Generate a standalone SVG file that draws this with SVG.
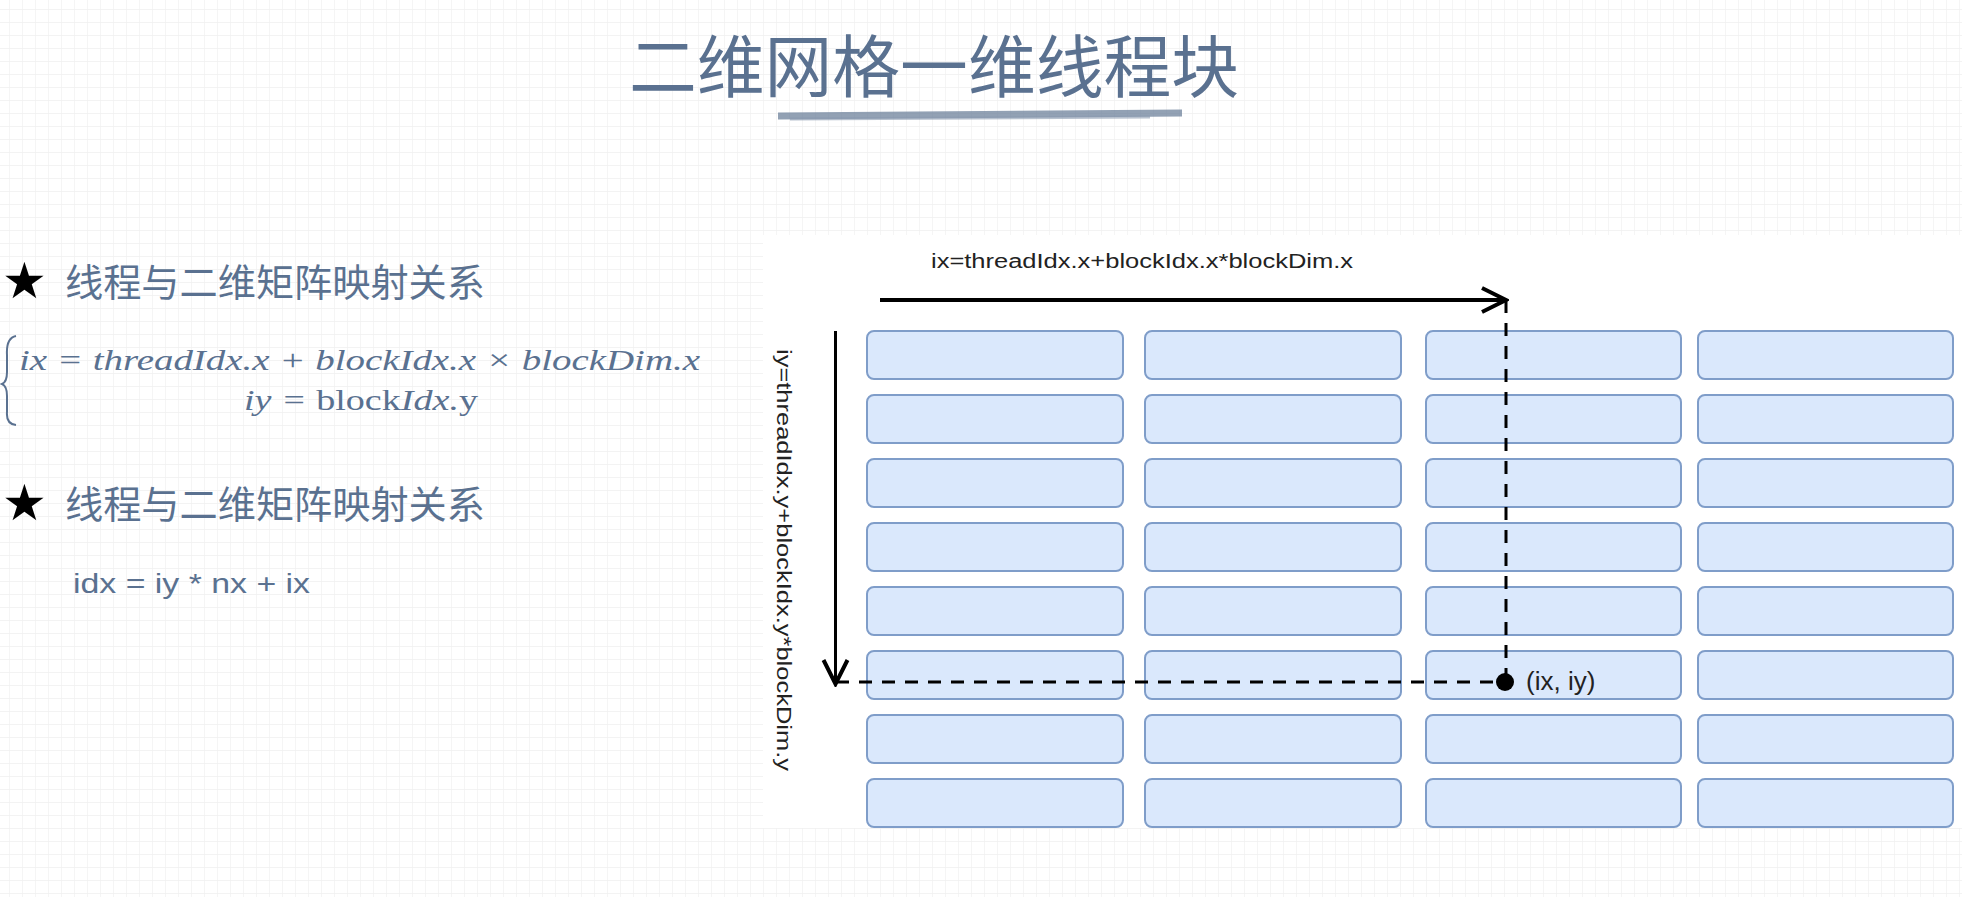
<svg xmlns="http://www.w3.org/2000/svg" width="1962" height="897" viewBox="0 0 1962 897">
<defs>
<pattern id="grid" x="9" y="9" width="13" height="13" patternUnits="userSpaceOnUse">
<path d="M0 0H13M0 0V13" stroke="#f0f0f0" stroke-width="1.3" fill="none"/>
</pattern>
<marker id="open" viewBox="0 0 20 20" refX="18" refY="10" markerWidth="10" markerHeight="10" markerUnits="userSpaceOnUse" orient="auto">
<path d="M2 2L18 10L2 18" fill="none" stroke="#000" stroke-width="2.5"/>
</marker>
<marker id="openBig" viewBox="0 0 30 30" refX="27" refY="15" markerWidth="30" markerHeight="30" markerUnits="userSpaceOnUse" orient="auto">
<path d="M3 3L27 15L3 27" fill="none" stroke="#000" stroke-width="4"/>
</marker>
</defs>
<style>
.cell{fill:#dae8fc;stroke:#7f9dc9;stroke-width:2}
.head{font-family:"Noto Sans CJK SC",sans-serif;fill:#5a7190}
.math{font-family:"Liberation Serif","DejaVu Serif",serif;font-style:italic;fill:#5a7190}
.lbl{font-family:"Liberation Sans",Arial,sans-serif;fill:#222}
</style>
<rect width="1962" height="897" fill="#fff"/>
<rect width="1962" height="897" fill="url(#grid)"/>
<g id="title">
<text x="934" y="92" text-anchor="middle" class="head" font-size="68" textLength="610" lengthAdjust="spacingAndGlyphs">二维网格一维线程块</text>
<path d="M778 116 L1182 113" stroke="#6e829c" stroke-width="7" opacity="0.75"/>
<path d="M790 119 L1150 117" stroke="#8a9ab0" stroke-width="3" opacity="0.6"/>
</g>
<g id="left">
<text x="2" y="298" font-family="DejaVu Sans,sans-serif" font-size="50" fill="#000">★</text>
<text x="65" y="296" class="head" font-size="38" textLength="420" lengthAdjust="spacingAndGlyphs">线程与二维矩阵映射关系</text>
<path d="M16 336 Q6 338 7 355 L7 372 Q7 382 2 384 Q7 386 7 396 L7 412 Q6 424 16 425" fill="none" stroke="#5a7190" stroke-width="2"/>
<text x="19" y="370" class="math" font-size="30" textLength="681" lengthAdjust="spacingAndGlyphs">ix = threadIdx.x + blockIdx.x × blockDim.x</text>
<text x="244" y="410" class="math" font-size="30" textLength="234" lengthAdjust="spacingAndGlyphs">iy = <tspan font-style="normal">block</tspan>Idx.<tspan font-style="normal">y</tspan></text>
<text x="2" y="520" font-family="DejaVu Sans,sans-serif" font-size="50" fill="#000">★</text>
<text x="65" y="518" class="head" font-size="38" textLength="420" lengthAdjust="spacingAndGlyphs">线程与二维矩阵映射关系</text>
<text x="73" y="593" font-family="Liberation Sans,Arial,sans-serif" font-size="28" fill="#5a7190" textLength="237" lengthAdjust="spacingAndGlyphs">idx = iy * nx + ix</text>
</g>
<rect x="763" y="235" width="1199" height="593" fill="#fff"/>
<g id="cells">
<rect class="cell" x="867" y="331" width="256" height="48" rx="7"/><rect class="cell" x="1145" y="331" width="256" height="48" rx="7"/><rect class="cell" x="1426" y="331" width="255" height="48" rx="7"/><rect class="cell" x="1698" y="331" width="255" height="48" rx="7"/>
<rect class="cell" x="867" y="395" width="256" height="48" rx="7"/><rect class="cell" x="1145" y="395" width="256" height="48" rx="7"/><rect class="cell" x="1426" y="395" width="255" height="48" rx="7"/><rect class="cell" x="1698" y="395" width="255" height="48" rx="7"/>
<rect class="cell" x="867" y="459" width="256" height="48" rx="7"/><rect class="cell" x="1145" y="459" width="256" height="48" rx="7"/><rect class="cell" x="1426" y="459" width="255" height="48" rx="7"/><rect class="cell" x="1698" y="459" width="255" height="48" rx="7"/>
<rect class="cell" x="867" y="523" width="256" height="48" rx="7"/><rect class="cell" x="1145" y="523" width="256" height="48" rx="7"/><rect class="cell" x="1426" y="523" width="255" height="48" rx="7"/><rect class="cell" x="1698" y="523" width="255" height="48" rx="7"/>
<rect class="cell" x="867" y="587" width="256" height="48" rx="7"/><rect class="cell" x="1145" y="587" width="256" height="48" rx="7"/><rect class="cell" x="1426" y="587" width="255" height="48" rx="7"/><rect class="cell" x="1698" y="587" width="255" height="48" rx="7"/>
<rect class="cell" x="867" y="651" width="256" height="48" rx="7"/><rect class="cell" x="1145" y="651" width="256" height="48" rx="7"/><rect class="cell" x="1426" y="651" width="255" height="48" rx="7"/><rect class="cell" x="1698" y="651" width="255" height="48" rx="7"/>
<rect class="cell" x="867" y="715" width="256" height="48" rx="7"/><rect class="cell" x="1145" y="715" width="256" height="48" rx="7"/><rect class="cell" x="1426" y="715" width="255" height="48" rx="7"/><rect class="cell" x="1698" y="715" width="255" height="48" rx="7"/>
<rect class="cell" x="867" y="779" width="256" height="48" rx="7"/><rect class="cell" x="1145" y="779" width="256" height="48" rx="7"/><rect class="cell" x="1426" y="779" width="255" height="48" rx="7"/><rect class="cell" x="1698" y="779" width="255" height="48" rx="7"/>
</g>
<g id="connectors" fill="none" stroke="#000">
<path d="M880 300 H1506" stroke-width="4" marker-end="url(#openBig)"/>
<path d="M835.5 331 V684" stroke-width="3" marker-end="url(#openBig)"/>
<path d="M1506 300 V682" stroke-width="3" stroke-dasharray="13 10"/>
<path d="M836 682 H1506" stroke-width="3" stroke-dasharray="13 10"/>
<circle cx="1505" cy="682" r="9" fill="#000" stroke="none"/>
</g>
<g id="labels">
<text x="1142" y="268" text-anchor="middle" class="lbl" font-size="20" textLength="422" lengthAdjust="spacingAndGlyphs">ix=threadIdx.x+blockIdx.x*blockDim.x</text>
<text transform="translate(777,560) rotate(90)" text-anchor="middle" class="lbl" font-size="20" textLength="422" lengthAdjust="spacingAndGlyphs">iy=threadIdx.y+blockIdx.y*blockDim.y</text>
<text x="1526" y="690" class="lbl" font-size="26" fill="#333">(ix, iy)</text>
</g>
</svg>
